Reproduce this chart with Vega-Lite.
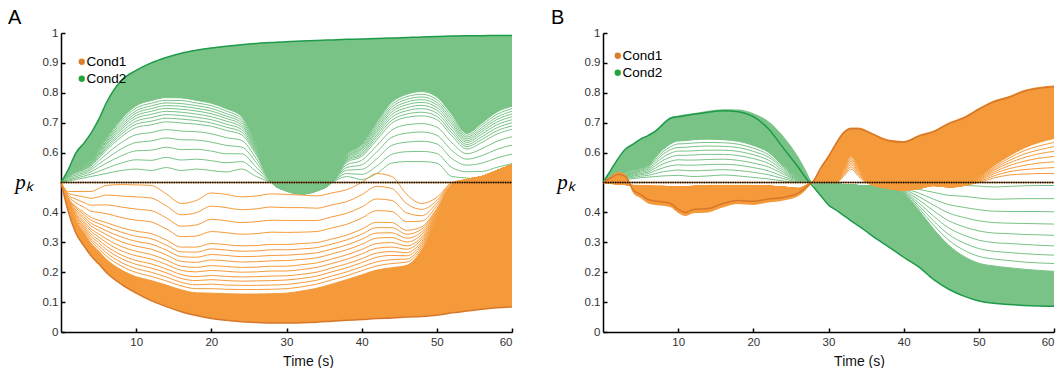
{
"$schema": "https://vega.github.io/schema/vega-lite/v6.json",
"padding": {"left": 8, "top": 8, "right": 0, "bottom": 0},
"spacing": 35,
"config": {
  "view": {"stroke": null},
  "font": "Liberation Sans",
  "axis": {"grid": false, "domainColor": "#000", "domainWidth": 1.5, "tickColor": "#000", "tickWidth": 1.5, "tickSize": -4, "labelFont": "Liberation Sans", "labelFontSize": 11.5, "labelColor": "#333", "labelOverlap": false, "titleFont": "Liberation Sans", "titleFontSize": 14, "titleFontWeight": "normal", "titleColor": "#111"},
  "legend": {"orient": "none", "title": null, "symbolType": "circle", "symbolSize": 40, "symbolOpacity": 1, "symbolStrokeWidth": 0, "labelFont": "Liberation Sans", "labelFontSize": 13.5, "labelColor": "#000", "rowPadding": 2, "labelOffset": -2, "padding": 0},
  "title": {"anchor": "start", "frame": "group", "fontSize": 20, "fontWeight": "normal", "font": "Liberation Sans", "color": "#000", "baseline": "alphabetic", "offset": 2, "dy": 3}
},
"resolve": {"scale": {"color": "independent", "x": "independent", "y": "independent"}, "legend": {"color": "independent"}},
"datasets": {
"A": [
{"t":0,"gE":0.5,"gD":0.5,"g0":0.5,"g1":0.5,"g2":0.5,"g3":0.5,"g4":0.5,"g5":0.5,"g6":0.5,"g7":0.5,"g8":0.5,"g9":0.5,"q1":0.5,"q2":0.5,"q3":0.5,"q4":0.5,"oE":0.5,"oD":0.5,"o0":0.5,"o1":0.5,"o2":0.5,"o3":0.5,"o4":0.5,"o5":0.5,"o6":0.5,"o7":0.5,"o8":0.5,"o9":0.5,"p1":0.5,"p2":0.5,"p3":0.5,"p4":0.5,"p5":0.5},
{"t":1,"gE":0.545,"gD":0.528,"g0":0.505,"g1":0.508,"g2":0.511,"g3":0.515,"g4":0.517,"g5":0.52,"g6":0.522,"g7":0.524,"g8":0.526,"g9":0.528,"q1":0.521,"q2":0.523,"q3":0.525,"q4":0.527,"oE":0.4,"oD":0.425,"o0":0.47,"o1":0.464,"o2":0.458,"o3":0.453,"o4":0.447,"o5":0.442,"o6":0.437,"o7":0.433,"o8":0.429,"o9":0.425,"p1":0.445,"p2":0.44,"p3":0.435,"p4":0.431,"p5":0.427},
{"t":2,"gE":0.6,"gD":0.546,"g0":0.51,"g1":0.515,"g2":0.52,"g3":0.525,"g4":0.53,"g5":0.534,"g6":0.537,"g7":0.54,"g8":0.543,"g9":0.546,"q1":0.536,"q2":0.539,"q3":0.542,"q4":0.545,"oE":0.33,"oD":0.37,"o0":0.47,"o1":0.457,"o2":0.444,"o3":0.432,"o4":0.419,"o5":0.408,"o6":0.397,"o7":0.388,"o8":0.379,"o9":0.37,"p1":0.414,"p2":0.403,"p3":0.393,"p4":0.384,"p5":0.375},
{"t":3,"gE":0.63,"gD":0.556,"g0":0.515,"g1":0.521,"g2":0.527,"g3":0.532,"g4":0.537,"g5":0.542,"g6":0.546,"g7":0.549,"g8":0.552,"g9":0.556,"q1":0.544,"q2":0.548,"q3":0.551,"q4":0.554,"oE":0.29,"oD":0.334,"o0":0.47,"o1":0.452,"o2":0.434,"o3":0.418,"o4":0.401,"o5":0.386,"o6":0.371,"o7":0.358,"o8":0.346,"o9":0.334,"p1":0.394,"p2":0.379,"p3":0.365,"p4":0.352,"p5":0.34},
{"t":4,"gE":0.665,"gD":0.574,"g0":0.52,"g1":0.528,"g2":0.536,"g3":0.543,"g4":0.549,"g5":0.555,"g6":0.561,"g7":0.566,"g8":0.57,"g9":0.574,"q1":0.558,"q2":0.564,"q3":0.568,"q4":0.572,"oE":0.255,"oD":0.297,"o0":0.47,"o1":0.447,"o2":0.424,"o3":0.404,"o4":0.383,"o5":0.364,"o6":0.345,"o7":0.328,"o8":0.312,"o9":0.297,"p1":0.374,"p2":0.355,"p3":0.337,"p4":0.32,"p5":0.305},
{"t":5,"gE":0.71,"gD":0.611,"g0":0.525,"g1":0.537,"g2":0.55,"g3":0.561,"g4":0.572,"g5":0.581,"g6":0.59,"g7":0.597,"g8":0.604,"g9":0.611,"q1":0.586,"q2":0.594,"q3":0.601,"q4":0.608,"oE":0.228,"oD":0.271,"o0":0.48,"o1":0.452,"o2":0.425,"o3":0.4,"o4":0.374,"o5":0.351,"o6":0.328,"o7":0.308,"o8":0.289,"o9":0.271,"p1":0.363,"p2":0.34,"p3":0.318,"p4":0.299,"p5":0.28},
{"t":6,"gE":0.765,"gD":0.647,"g0":0.53,"g1":0.547,"g2":0.564,"g3":0.579,"g4":0.594,"g5":0.607,"g6":0.618,"g7":0.629,"g8":0.638,"g9":0.647,"q1":0.613,"q2":0.624,"q3":0.634,"q4":0.643,"oE":0.2,"oD":0.244,"o0":0.49,"o1":0.458,"o2":0.425,"o3":0.396,"o4":0.366,"o5":0.339,"o6":0.312,"o7":0.288,"o8":0.266,"o9":0.244,"p1":0.353,"p2":0.326,"p3":0.3,"p4":0.277,"p5":0.255},
{"t":8,"gE":0.84,"gD":0.711,"g0":0.54,"g1":0.565,"g2":0.589,"g3":0.612,"g4":0.633,"g5":0.652,"g6":0.669,"g7":0.684,"g8":0.698,"g9":0.711,"q1":0.661,"q2":0.677,"q3":0.691,"q4":0.705,"oE":0.16,"oD":0.208,"o0":0.493,"o1":0.455,"o2":0.418,"o3":0.383,"o4":0.349,"o5":0.318,"o6":0.286,"o7":0.258,"o8":0.233,"o9":0.208,"p1":0.334,"p2":0.302,"p3":0.272,"p4":0.246,"p5":0.221},
{"t":10,"gE":0.875,"gD":0.757,"g0":0.545,"g1":0.576,"g2":0.606,"g3":0.634,"g4":0.66,"g5":0.684,"g6":0.705,"g7":0.724,"g8":0.74,"g9":0.757,"q1":0.695,"q2":0.715,"q3":0.732,"q4":0.749,"oE":0.13,"oD":0.185,"o0":0.492,"o1":0.452,"o2":0.411,"o3":0.374,"o4":0.337,"o5":0.303,"o6":0.27,"o7":0.239,"o8":0.212,"o9":0.185,"p1":0.32,"p2":0.287,"p3":0.255,"p4":0.226,"p5":0.199},
{"t":12,"gE":0.9,"gD":0.774,"g0":0.54,"g1":0.574,"g2":0.608,"g3":0.639,"g4":0.667,"g5":0.693,"g6":0.717,"g7":0.738,"g8":0.756,"g9":0.774,"q1":0.705,"q2":0.728,"q3":0.747,"q4":0.765,"oE":0.105,"oD":0.172,"o0":0.49,"o1":0.448,"o2":0.406,"o3":0.368,"o4":0.329,"o5":0.294,"o6":0.259,"o7":0.228,"o8":0.2,"o9":0.172,"p1":0.312,"p2":0.277,"p3":0.244,"p4":0.214,"p5":0.186},
{"t":14,"gE":0.918,"gD":0.784,"g0":0.55,"g1":0.584,"g2":0.618,"g3":0.649,"g4":0.677,"g5":0.703,"g6":0.727,"g7":0.748,"g8":0.766,"g9":0.784,"q1":0.715,"q2":0.738,"q3":0.757,"q4":0.775,"oE":0.085,"oD":0.157,"o0":0.462,"o1":0.422,"o2":0.382,"o3":0.345,"o4":0.308,"o5":0.274,"o6":0.241,"o7":0.211,"o8":0.184,"o9":0.157,"p1":0.291,"p2":0.258,"p3":0.226,"p4":0.198,"p5":0.171},
{"t":16,"gE":0.932,"gD":0.783,"g0":0.54,"g1":0.575,"g2":0.61,"g3":0.643,"g4":0.672,"g5":0.699,"g6":0.724,"g7":0.745,"g8":0.764,"g9":0.783,"q1":0.712,"q2":0.735,"q3":0.755,"q4":0.774,"oE":0.068,"oD":0.141,"o0":0.43,"o1":0.392,"o2":0.354,"o3":0.319,"o4":0.284,"o5":0.252,"o6":0.22,"o7":0.192,"o8":0.166,"o9":0.141,"p1":0.268,"p2":0.236,"p3":0.206,"p4":0.179,"p5":0.154},
{"t":18,"gE":0.942,"gD":0.775,"g0":0.545,"g1":0.578,"g2":0.611,"g3":0.642,"g4":0.67,"g5":0.695,"g6":0.718,"g7":0.739,"g8":0.757,"g9":0.775,"q1":0.707,"q2":0.729,"q3":0.748,"q4":0.766,"oE":0.055,"oD":0.131,"o0":0.44,"o1":0.399,"o2":0.358,"o3":0.321,"o4":0.284,"o5":0.25,"o6":0.216,"o7":0.185,"o8":0.158,"o9":0.131,"p1":0.267,"p2":0.233,"p3":0.201,"p4":0.172,"p5":0.145},
{"t":20,"gE":0.95,"gD":0.765,"g0":0.54,"g1":0.573,"g2":0.605,"g3":0.635,"g4":0.663,"g5":0.688,"g6":0.71,"g7":0.73,"g8":0.748,"g9":0.765,"q1":0.699,"q2":0.72,"q3":0.739,"q4":0.757,"oE":0.045,"oD":0.13,"o0":0.465,"o1":0.421,"o2":0.377,"o3":0.336,"o4":0.296,"o5":0.259,"o6":0.222,"o7":0.189,"o8":0.16,"o9":0.13,"p1":0.278,"p2":0.241,"p3":0.206,"p4":0.175,"p5":0.145},
{"t":22,"gE":0.956,"gD":0.747,"g0":0.535,"g1":0.566,"g2":0.596,"g3":0.624,"g4":0.65,"g5":0.674,"g6":0.695,"g7":0.714,"g8":0.73,"g9":0.747,"q1":0.685,"q2":0.705,"q3":0.722,"q4":0.739,"oE":0.039,"oD":0.128,"o0":0.46,"o1":0.416,"o2":0.372,"o3":0.332,"o4":0.292,"o5":0.256,"o6":0.219,"o7":0.186,"o8":0.157,"o9":0.128,"p1":0.274,"p2":0.238,"p3":0.203,"p4":0.172,"p5":0.143},
{"t":24,"gE":0.961,"gD":0.721,"g0":0.545,"g1":0.57,"g2":0.596,"g3":0.619,"g4":0.641,"g5":0.66,"g6":0.678,"g7":0.693,"g8":0.707,"g9":0.721,"q1":0.669,"q2":0.686,"q3":0.7,"q4":0.714,"oE":0.034,"oD":0.127,"o0":0.452,"o1":0.409,"o2":0.366,"o3":0.327,"o4":0.288,"o5":0.252,"o6":0.216,"o7":0.184,"o8":0.156,"o9":0.127,"p1":0.27,"p2":0.234,"p3":0.2,"p4":0.17,"p5":0.142},
{"t":26,"gE":0.965,"gD":0.628,"g0":0.52,"g1":0.536,"g2":0.551,"g3":0.566,"g4":0.579,"g5":0.591,"g6":0.602,"g7":0.611,"g8":0.62,"g9":0.628,"q1":0.597,"q2":0.607,"q3":0.616,"q4":0.624,"oE":0.032,"oD":0.127,"o0":0.455,"o1":0.412,"o2":0.369,"o3":0.329,"o4":0.289,"o5":0.253,"o6":0.217,"o7":0.185,"o8":0.156,"o9":0.127,"p1":0.271,"p2":0.235,"p3":0.201,"p4":0.171,"p5":0.142},
{"t":28,"gE":0.968,"gD":0.5,"g0":0.5,"g1":0.5,"g2":0.5,"g3":0.5,"g4":0.5,"g5":0.5,"g6":0.5,"g7":0.5,"g8":0.5,"g9":0.5,"q1":0.5,"q2":0.5,"q3":0.5,"q4":0.5,"oE":0.03,"oD":0.128,"o0":0.462,"o1":0.418,"o2":0.374,"o3":0.334,"o4":0.293,"o5":0.256,"o6":0.22,"o7":0.187,"o8":0.157,"o9":0.128,"p1":0.275,"p2":0.238,"p3":0.204,"p4":0.172,"p5":0.143},
{"t":30,"gE":0.971,"gD":0.47,"g0":0.48,"g1":0.479,"g2":0.477,"g3":0.476,"g4":0.475,"g5":0.474,"g6":0.473,"g7":0.472,"g8":0.472,"g9":0.471,"q1":0.474,"q2":0.473,"q3":0.472,"q4":0.472,"oE":0.03,"oD":0.13,"o0":0.46,"o1":0.416,"o2":0.373,"o3":0.333,"o4":0.293,"o5":0.257,"o6":0.22,"o7":0.188,"o8":0.159,"o9":0.13,"p1":0.275,"p2":0.239,"p3":0.204,"p4":0.174,"p5":0.145},
{"t":32,"gE":0.973,"gD":0.46,"g0":0.47,"g1":0.469,"g2":0.467,"g3":0.466,"g4":0.465,"g5":0.464,"g6":0.463,"g7":0.462,"g8":0.462,"g9":0.461,"q1":0.464,"q2":0.463,"q3":0.462,"q4":0.462,"oE":0.031,"oD":0.137,"o0":0.458,"o1":0.416,"o2":0.373,"o3":0.334,"o4":0.296,"o5":0.26,"o6":0.225,"o7":0.193,"o8":0.165,"o9":0.137,"p1":0.278,"p2":0.243,"p3":0.209,"p4":0.179,"p5":0.151},
{"t":34,"gE":0.975,"gD":0.47,"g0":0.48,"g1":0.479,"g2":0.477,"g3":0.476,"g4":0.475,"g5":0.474,"g6":0.473,"g7":0.472,"g8":0.472,"g9":0.471,"q1":0.474,"q2":0.473,"q3":0.472,"q4":0.472,"oE":0.033,"oD":0.146,"o0":0.455,"o1":0.414,"o2":0.373,"o3":0.336,"o4":0.299,"o5":0.265,"o6":0.231,"o7":0.2,"o8":0.173,"o9":0.146,"p1":0.282,"p2":0.248,"p3":0.216,"p4":0.187,"p5":0.16},
{"t":36,"gE":0.977,"gD":0.5,"g0":0.5,"g1":0.5,"g2":0.5,"g3":0.5,"g4":0.5,"g5":0.5,"g6":0.5,"g7":0.5,"g8":0.5,"g9":0.5,"q1":0.5,"q2":0.5,"q3":0.5,"q4":0.5,"oE":0.036,"oD":0.16,"o0":0.465,"o1":0.425,"o2":0.385,"o3":0.348,"o4":0.311,"o5":0.277,"o6":0.244,"o7":0.214,"o8":0.187,"o9":0.16,"p1":0.294,"p2":0.261,"p3":0.229,"p4":0.201,"p5":0.174},
{"t":38,"gE":0.979,"gD":0.592,"g0":0.52,"g1":0.53,"g2":0.541,"g3":0.55,"g4":0.559,"g5":0.567,"g6":0.574,"g7":0.581,"g8":0.586,"g9":0.592,"q1":0.571,"q2":0.578,"q3":0.584,"q4":0.589,"oE":0.039,"oD":0.175,"o0":0.476,"o1":0.436,"o2":0.397,"o3":0.36,"o4":0.324,"o5":0.291,"o6":0.258,"o7":0.228,"o8":0.201,"o9":0.175,"p1":0.308,"p2":0.275,"p3":0.243,"p4":0.215,"p5":0.188},
{"t":40,"gE":0.98,"gD":0.627,"g0":0.51,"g1":0.527,"g2":0.544,"g3":0.559,"g4":0.574,"g5":0.587,"g6":0.598,"g7":0.609,"g8":0.618,"g9":0.627,"q1":0.593,"q2":0.604,"q3":0.614,"q4":0.623,"oE":0.042,"oD":0.191,"o0":0.5,"o1":0.459,"o2":0.418,"o3":0.381,"o4":0.344,"o5":0.31,"o6":0.276,"o7":0.245,"o8":0.218,"o9":0.191,"p1":0.327,"p2":0.293,"p3":0.261,"p4":0.232,"p5":0.205},
{"t":42,"gE":0.982,"gD":0.701,"g0":0.53,"g1":0.555,"g2":0.579,"g3":0.602,"g4":0.623,"g5":0.642,"g6":0.659,"g7":0.674,"g8":0.688,"g9":0.701,"q1":0.651,"q2":0.667,"q3":0.681,"q4":0.695,"oE":0.045,"oD":0.207,"o0":0.53,"o1":0.487,"o2":0.445,"o3":0.406,"o4":0.367,"o5":0.331,"o6":0.296,"o7":0.264,"o8":0.235,"o9":0.207,"p1":0.349,"p2":0.314,"p3":0.28,"p4":0.25,"p5":0.221},
{"t":44,"gE":0.983,"gD":0.768,"g0":0.565,"g1":0.594,"g2":0.624,"g3":0.651,"g4":0.675,"g5":0.698,"g6":0.718,"g7":0.736,"g8":0.752,"g9":0.768,"q1":0.708,"q2":0.727,"q3":0.744,"q4":0.76,"oE":0.047,"oD":0.215,"o0":0.52,"o1":0.48,"o2":0.44,"o3":0.403,"o4":0.366,"o5":0.332,"o6":0.299,"o7":0.269,"o8":0.242,"o9":0.215,"p1":0.349,"p2":0.316,"p3":0.284,"p4":0.256,"p5":0.229},
{"t":46,"gE":0.985,"gD":0.795,"g0":0.57,"g1":0.603,"g2":0.635,"g3":0.665,"g4":0.693,"g5":0.718,"g6":0.74,"g7":0.76,"g8":0.778,"g9":0.795,"q1":0.729,"q2":0.75,"q3":0.769,"q4":0.787,"oE":0.05,"oD":0.223,"o0":0.46,"o1":0.429,"o2":0.398,"o3":0.369,"o4":0.34,"o5":0.314,"o6":0.288,"o7":0.265,"o8":0.244,"o9":0.223,"p1":0.327,"p2":0.301,"p3":0.277,"p4":0.255,"p5":0.234},
{"t":48,"gE":0.987,"gD":0.804,"g0":0.57,"g1":0.604,"g2":0.638,"g3":0.669,"g4":0.697,"g5":0.723,"g6":0.747,"g7":0.768,"g8":0.786,"g9":0.804,"q1":0.735,"q2":0.758,"q3":0.777,"q4":0.795,"oE":0.052,"oD":0.275,"o0":0.43,"o1":0.41,"o2":0.389,"o3":0.371,"o4":0.352,"o5":0.335,"o6":0.318,"o7":0.303,"o8":0.289,"o9":0.275,"p1":0.344,"p2":0.327,"p3":0.311,"p4":0.296,"p5":0.282},
{"t":50,"gE":0.988,"gD":0.786,"g0":0.565,"g1":0.597,"g2":0.629,"g3":0.658,"g4":0.685,"g5":0.71,"g6":0.732,"g7":0.751,"g8":0.768,"g9":0.786,"q1":0.721,"q2":0.742,"q3":0.76,"q4":0.777,"oE":0.056,"oD":0.377,"o0":0.45,"o1":0.44,"o2":0.431,"o3":0.422,"o4":0.413,"o5":0.405,"o6":0.397,"o7":0.39,"o8":0.384,"o9":0.377,"p1":0.409,"p2":0.401,"p3":0.394,"p4":0.387,"p5":0.381},
{"t":52,"gE":0.99,"gD":0.727,"g0":0.52,"g1":0.55,"g2":0.58,"g3":0.607,"g4":0.633,"g5":0.656,"g6":0.676,"g7":0.695,"g8":0.711,"g9":0.727,"q1":0.666,"q2":0.686,"q3":0.703,"q4":0.719,"oE":0.064,"oD":0.48,"o0":0.5,"o1":0.498,"o2":0.495,"o3":0.493,"o4":0.491,"o5":0.489,"o6":0.487,"o7":0.485,"o8":0.483,"o9":0.482,"p1":0.49,"p2":0.488,"p3":0.486,"p4":0.484,"p5":0.483},
{"t":54,"gE":0.991,"gD":0.664,"g0":0.515,"g1":0.536,"g2":0.558,"g3":0.578,"g4":0.596,"g5":0.612,"g6":0.627,"g7":0.64,"g8":0.652,"g9":0.664,"q1":0.62,"q2":0.634,"q3":0.646,"q4":0.658,"oE":0.07,"oD":0.51,"o0":0.51,"o1":0.51,"o2":0.51,"o3":0.51,"o4":0.51,"o5":0.51,"o6":0.51,"o7":0.51,"o8":0.51,"o9":0.51,"p1":0.51,"p2":0.51,"p3":0.51,"p4":0.51,"p5":0.51},
{"t":56,"gE":0.991,"gD":0.699,"g0":0.51,"g1":0.537,"g2":0.565,"g3":0.59,"g4":0.613,"g5":0.634,"g6":0.653,"g7":0.67,"g8":0.684,"g9":0.699,"q1":0.644,"q2":0.662,"q3":0.677,"q4":0.692,"oE":0.076,"oD":0.52,"o0":0.52,"o1":0.52,"o2":0.52,"o3":0.52,"o4":0.52,"o5":0.52,"o6":0.52,"o7":0.52,"o8":0.52,"o9":0.52,"p1":0.52,"p2":0.52,"p3":0.52,"p4":0.52,"p5":0.52},
{"t":58,"gE":0.992,"gD":0.736,"g0":0.52,"g1":0.551,"g2":0.582,"g3":0.611,"g4":0.638,"g5":0.662,"g6":0.683,"g7":0.702,"g8":0.719,"g9":0.736,"q1":0.673,"q2":0.693,"q3":0.711,"q4":0.728,"oE":0.081,"oD":0.54,"o0":0.54,"o1":0.54,"o2":0.54,"o3":0.54,"o4":0.54,"o5":0.54,"o6":0.54,"o7":0.54,"o8":0.54,"o9":0.54,"p1":0.54,"p2":0.54,"p3":0.54,"p4":0.54,"p5":0.54},
{"t":60,"gE":0.992,"gD":0.755,"g0":0.53,"g1":0.563,"g2":0.595,"g3":0.625,"g4":0.653,"g5":0.678,"g6":0.7,"g7":0.72,"g8":0.738,"g9":0.755,"q1":0.689,"q2":0.71,"q3":0.729,"q4":0.747,"oE":0.084,"oD":0.56,"o0":0.56,"o1":0.56,"o2":0.56,"o3":0.56,"o4":0.56,"o5":0.56,"o6":0.56,"o7":0.56,"o8":0.56,"o9":0.56,"p1":0.56,"p2":0.56,"p3":0.56,"p4":0.56,"p5":0.56}
],
"B": [
{"t":0,"gE":0.5,"gF":0.5,"gD":0.5,"g0":0.5,"g1":0.5,"g2":0.5,"g3":0.5,"g4":0.5,"g5":0.5,"g6":0.5,"g7":0.5,"g8":0.5,"oE":0.5,"oF":0.5,"oD":0.5,"o0":0.5,"o1":0.5,"o2":0.5,"o3":0.5,"o4":0.5,"o5":0.5,"o6":0.5,"o7":0.5},
{"t":1,"gE":0.54,"gF":0.54,"gD":0.51,"g0":0.503,"g1":0.504,"g2":0.505,"g3":0.506,"g4":0.507,"g5":0.507,"g6":0.508,"g7":0.509,"g8":0.509,"oE":0.515,"oF":0.52,"oD":0.497,"o0":0.497,"o1":0.497,"o2":0.497,"o3":0.497,"o4":0.497,"o5":0.497,"o6":0.497,"o7":0.497},
{"t":2,"gE":0.58,"gF":0.58,"gD":0.52,"g0":0.507,"g1":0.509,"g2":0.511,"g3":0.512,"g4":0.514,"g5":0.515,"g6":0.517,"g7":0.518,"g8":0.519,"oE":0.528,"oF":0.535,"oD":0.495,"o0":0.495,"o1":0.495,"o2":0.495,"o3":0.495,"o4":0.495,"o5":0.495,"o6":0.495,"o7":0.495},
{"t":3,"gE":0.612,"gF":0.612,"gD":0.53,"g0":0.51,"g1":0.513,"g2":0.516,"g3":0.518,"g4":0.521,"g5":0.523,"g6":0.525,"g7":0.527,"g8":0.528,"oE":0.52,"oF":0.527,"oD":0.493,"o0":0.493,"o1":0.493,"o2":0.493,"o3":0.493,"o4":0.493,"o5":0.493,"o6":0.493,"o7":0.493},
{"t":4,"gE":0.628,"gF":0.63,"gD":0.54,"g0":0.513,"g1":0.517,"g2":0.521,"g3":0.524,"g4":0.527,"g5":0.53,"g6":0.533,"g7":0.535,"g8":0.538,"oE":0.476,"oF":0.465,"oD":0.49,"o0":0.49,"o1":0.49,"o2":0.49,"o3":0.49,"o4":0.49,"o5":0.49,"o6":0.49,"o7":0.49},
{"t":5,"gE":0.645,"gF":0.647,"gD":0.547,"g0":0.516,"g1":0.521,"g2":0.526,"g3":0.53,"g4":0.534,"g5":0.538,"g6":0.541,"g7":0.544,"g8":0.547,"oE":0.46,"oF":0.448,"oD":0.49,"o0":0.49,"o1":0.49,"o2":0.49,"o3":0.49,"o4":0.49,"o5":0.49,"o6":0.49,"o7":0.49},
{"t":6,"gE":0.657,"gF":0.66,"gD":0.556,"g0":0.518,"g1":0.524,"g2":0.53,"g3":0.535,"g4":0.54,"g5":0.545,"g6":0.549,"g7":0.553,"g8":0.556,"oE":0.443,"oF":0.43,"oD":0.488,"o0":0.488,"o1":0.488,"o2":0.488,"o3":0.488,"o4":0.488,"o5":0.488,"o6":0.488,"o7":0.488},
{"t":7,"gE":0.672,"gF":0.676,"gD":0.584,"g0":0.52,"g1":0.53,"g2":0.54,"g3":0.549,"g4":0.557,"g5":0.565,"g6":0.572,"g7":0.578,"g8":0.584,"oE":0.438,"oF":0.425,"oD":0.487,"o0":0.487,"o1":0.487,"o2":0.487,"o3":0.487,"o4":0.487,"o5":0.487,"o6":0.487,"o7":0.487},
{"t":8,"gE":0.695,"gF":0.7,"gD":0.611,"g0":0.522,"g1":0.536,"g2":0.549,"g3":0.562,"g4":0.574,"g5":0.585,"g6":0.595,"g7":0.603,"g8":0.611,"oE":0.435,"oF":0.422,"oD":0.487,"o0":0.487,"o1":0.487,"o2":0.487,"o3":0.487,"o4":0.487,"o5":0.487,"o6":0.487,"o7":0.487},
{"t":9,"gE":0.715,"gF":0.719,"gD":0.629,"g0":0.523,"g1":0.539,"g2":0.556,"g3":0.571,"g4":0.585,"g5":0.598,"g6":0.61,"g7":0.62,"g8":0.629,"oE":0.43,"oF":0.417,"oD":0.486,"o0":0.486,"o1":0.486,"o2":0.486,"o3":0.486,"o4":0.486,"o5":0.486,"o6":0.486,"o7":0.486},
{"t":10,"gE":0.72,"gF":0.724,"gD":0.639,"g0":0.524,"g1":0.542,"g2":0.559,"g3":0.576,"g4":0.591,"g5":0.605,"g6":0.617,"g7":0.629,"g8":0.639,"oE":0.41,"oF":0.398,"oD":0.485,"o0":0.485,"o1":0.485,"o2":0.485,"o3":0.485,"o4":0.485,"o5":0.485,"o6":0.485,"o7":0.485},
{"t":11,"gE":0.724,"gF":0.728,"gD":0.64,"g0":0.522,"g1":0.54,"g2":0.558,"g3":0.575,"g4":0.591,"g5":0.605,"g6":0.618,"g7":0.63,"g8":0.64,"oE":0.4,"oF":0.388,"oD":0.486,"o0":0.486,"o1":0.486,"o2":0.486,"o3":0.486,"o4":0.486,"o5":0.486,"o6":0.486,"o7":0.486},
{"t":12,"gE":0.728,"gF":0.732,"gD":0.643,"g0":0.52,"g1":0.539,"g2":0.558,"g3":0.575,"g4":0.592,"g5":0.606,"g6":0.62,"g7":0.632,"g8":0.643,"oE":0.41,"oF":0.397,"oD":0.487,"o0":0.487,"o1":0.487,"o2":0.487,"o3":0.487,"o4":0.487,"o5":0.487,"o6":0.487,"o7":0.487},
{"t":14,"gE":0.735,"gF":0.74,"gD":0.645,"g0":0.522,"g1":0.541,"g2":0.56,"g3":0.577,"g4":0.594,"g5":0.608,"g6":0.622,"g7":0.634,"g8":0.645,"oE":0.413,"oF":0.4,"oD":0.49,"o0":0.49,"o1":0.49,"o2":0.49,"o3":0.49,"o4":0.49,"o5":0.49,"o6":0.49,"o7":0.49},
{"t":16,"gE":0.74,"gF":0.745,"gD":0.643,"g0":0.525,"g1":0.543,"g2":0.561,"g3":0.578,"g4":0.594,"g5":0.608,"g6":0.621,"g7":0.633,"g8":0.643,"oE":0.43,"oF":0.417,"oD":0.49,"o0":0.49,"o1":0.49,"o2":0.49,"o3":0.49,"o4":0.49,"o5":0.49,"o6":0.49,"o7":0.49},
{"t":18,"gE":0.737,"gF":0.744,"gD":0.638,"g0":0.522,"g1":0.54,"g2":0.558,"g3":0.574,"g4":0.59,"g5":0.604,"g6":0.617,"g7":0.628,"g8":0.638,"oE":0.44,"oF":0.428,"oD":0.49,"o0":0.49,"o1":0.49,"o2":0.49,"o3":0.49,"o4":0.49,"o5":0.49,"o6":0.49,"o7":0.49},
{"t":20,"gE":0.72,"gF":0.732,"gD":0.624,"g0":0.517,"g1":0.534,"g2":0.55,"g3":0.565,"g4":0.58,"g5":0.593,"g6":0.604,"g7":0.615,"g8":0.624,"oE":0.437,"oF":0.425,"oD":0.49,"o0":0.49,"o1":0.49,"o2":0.49,"o3":0.49,"o4":0.49,"o5":0.49,"o6":0.49,"o7":0.49},
{"t":22,"gE":0.68,"gF":0.705,"gD":0.601,"g0":0.512,"g1":0.526,"g2":0.539,"g3":0.552,"g4":0.564,"g5":0.575,"g6":0.585,"g7":0.593,"g8":0.601,"oE":0.445,"oF":0.433,"oD":0.488,"o0":0.488,"o1":0.488,"o2":0.488,"o3":0.488,"o4":0.488,"o5":0.488,"o6":0.488,"o7":0.488},
{"t":24,"gE":0.615,"gF":0.655,"gD":0.555,"g0":0.505,"g1":0.513,"g2":0.52,"g3":0.528,"g4":0.534,"g5":0.54,"g6":0.546,"g7":0.551,"g8":0.555,"oE":0.45,"oF":0.44,"oD":0.485,"o0":0.485,"o1":0.485,"o2":0.485,"o3":0.485,"o4":0.485,"o5":0.485,"o6":0.485,"o7":0.485},
{"t":26,"gE":0.55,"gF":0.585,"gD":0.514,"g0":0.5,"g1":0.502,"g2":0.504,"g3":0.506,"g4":0.508,"g5":0.51,"g6":0.511,"g7":0.512,"g8":0.514,"oE":0.465,"oF":0.455,"oD":0.48,"o0":0.48,"o1":0.48,"o2":0.48,"o3":0.48,"o4":0.48,"o5":0.48,"o6":0.48,"o7":0.48},
{"t":27,"gE":0.515,"gF":0.54,"gD":0.505,"g0":0.5,"g1":0.501,"g2":0.501,"g3":0.502,"g4":0.503,"g5":0.503,"g6":0.504,"g7":0.504,"g8":0.505,"oE":0.485,"oF":0.475,"oD":0.49,"o0":0.49,"o1":0.49,"o2":0.49,"o3":0.49,"o4":0.49,"o5":0.49,"o6":0.49,"o7":0.49},
{"t":28,"gE":0.485,"gF":0.49,"gD":0.5,"g0":0.5,"g1":0.5,"g2":0.5,"g3":0.5,"g4":0.5,"g5":0.5,"g6":0.5,"g7":0.5,"g8":0.5,"oE":0.505,"oF":0.508,"oD":0.5,"o0":0.5,"o1":0.5,"o2":0.5,"o3":0.5,"o4":0.5,"o5":0.5,"o6":0.5,"o7":0.5},
{"t":29,"gE":0.455,"gF":0.455,"gD":0.497,"g0":0.497,"g1":0.497,"g2":0.497,"g3":0.497,"g4":0.497,"g5":0.497,"g6":0.497,"g7":0.497,"g8":0.497,"oE":0.55,"oF":0.553,"oD":0.5,"o0":0.5,"o1":0.5,"o2":0.5,"o3":0.5,"o4":0.5,"o5":0.5,"o6":0.5,"o7":0.5},
{"t":30,"gE":0.425,"gF":0.425,"gD":0.495,"g0":0.495,"g1":0.495,"g2":0.495,"g3":0.495,"g4":0.495,"g5":0.495,"g6":0.495,"g7":0.495,"g8":0.495,"oE":0.587,"oF":0.59,"oD":0.5,"o0":0.5,"o1":0.5,"o2":0.5,"o3":0.5,"o4":0.5,"o5":0.5,"o6":0.5,"o7":0.5},
{"t":31,"gE":0.408,"gF":0.408,"gD":0.495,"g0":0.495,"g1":0.495,"g2":0.495,"g3":0.495,"g4":0.495,"g5":0.495,"g6":0.495,"g7":0.495,"g8":0.495,"oE":0.63,"oF":0.633,"oD":0.505,"o0":0.5,"o1":0.501,"o2":0.502,"o3":0.502,"o4":0.503,"o5":0.503,"o6":0.504,"o7":0.505},
{"t":32,"gE":0.39,"gF":0.39,"gD":0.493,"g0":0.493,"g1":0.493,"g2":0.493,"g3":0.493,"g4":0.493,"g5":0.493,"g6":0.493,"g7":0.493,"g8":0.493,"oE":0.666,"oF":0.67,"oD":0.547,"o0":0.52,"o1":0.525,"o2":0.529,"o3":0.533,"o4":0.537,"o5":0.541,"o6":0.544,"o7":0.547},
{"t":33,"gE":0.372,"gF":0.372,"gD":0.492,"g0":0.492,"g1":0.492,"g2":0.492,"g3":0.492,"g4":0.492,"g5":0.492,"g6":0.492,"g7":0.492,"g8":0.492,"oE":0.68,"oF":0.684,"oD":0.586,"o0":0.545,"o1":0.552,"o2":0.559,"o3":0.565,"o4":0.571,"o5":0.576,"o6":0.581,"o7":0.586},
{"t":34,"gE":0.355,"gF":0.355,"gD":0.49,"g0":0.49,"g1":0.49,"g2":0.49,"g3":0.49,"g4":0.49,"g5":0.49,"g6":0.49,"g7":0.49,"g8":0.49,"oE":0.68,"oF":0.684,"oD":0.552,"o0":0.52,"o1":0.525,"o2":0.531,"o3":0.535,"o4":0.54,"o5":0.544,"o6":0.548,"o7":0.552},
{"t":35,"gE":0.337,"gF":0.337,"gD":0.49,"g0":0.49,"g1":0.49,"g2":0.49,"g3":0.49,"g4":0.49,"g5":0.49,"g6":0.49,"g7":0.49,"g8":0.49,"oE":0.672,"oF":0.676,"oD":0.509,"o0":0.5,"o1":0.502,"o2":0.503,"o3":0.504,"o4":0.506,"o5":0.507,"o6":0.508,"o7":0.509},
{"t":36,"gE":0.318,"gF":0.318,"gD":0.488,"g0":0.488,"g1":0.488,"g2":0.488,"g3":0.488,"g4":0.488,"g5":0.488,"g6":0.488,"g7":0.488,"g8":0.488,"oE":0.66,"oF":0.664,"oD":0.495,"o0":0.49,"o1":0.491,"o2":0.492,"o3":0.492,"o4":0.493,"o5":0.493,"o6":0.494,"o7":0.495},
{"t":38,"gE":0.285,"gF":0.285,"gD":0.481,"g0":0.488,"g1":0.487,"g2":0.486,"g3":0.485,"g4":0.484,"g5":0.483,"g6":0.482,"g7":0.481,"g8":0.481,"oE":0.64,"oF":0.644,"oD":0.48,"o0":0.48,"o1":0.48,"o2":0.48,"o3":0.48,"o4":0.48,"o5":0.48,"o6":0.48,"o7":0.48},
{"t":40,"gE":0.25,"gF":0.25,"gD":0.463,"g0":0.488,"g1":0.484,"g2":0.48,"g3":0.477,"g4":0.473,"g5":0.47,"g6":0.467,"g7":0.465,"g8":0.463,"oE":0.635,"oF":0.639,"oD":0.475,"o0":0.475,"o1":0.475,"o2":0.475,"o3":0.475,"o4":0.475,"o5":0.475,"o6":0.475,"o7":0.475},
{"t":42,"gE":0.218,"gF":0.218,"gD":0.408,"g0":0.49,"g1":0.477,"g2":0.465,"g3":0.453,"g4":0.442,"g5":0.432,"g6":0.423,"g7":0.415,"g8":0.408,"oE":0.655,"oF":0.659,"oD":0.48,"o0":0.48,"o1":0.48,"o2":0.48,"o3":0.48,"o4":0.48,"o5":0.48,"o6":0.48,"o7":0.48},
{"t":44,"gE":0.175,"gF":0.175,"gD":0.344,"g0":0.489,"g1":0.467,"g2":0.444,"g3":0.424,"g4":0.405,"g5":0.387,"g6":0.371,"g7":0.357,"g8":0.344,"oE":0.67,"oF":0.674,"oD":0.49,"o0":0.49,"o1":0.49,"o2":0.49,"o3":0.49,"o4":0.49,"o5":0.49,"o6":0.49,"o7":0.49},
{"t":46,"gE":0.143,"gF":0.143,"gD":0.29,"g0":0.487,"g1":0.457,"g2":0.426,"g3":0.398,"g4":0.372,"g5":0.348,"g6":0.326,"g7":0.307,"g8":0.29,"oE":0.697,"oF":0.701,"oD":0.485,"o0":0.485,"o1":0.485,"o2":0.485,"o3":0.485,"o4":0.485,"o5":0.485,"o6":0.485,"o7":0.485},
{"t":48,"gE":0.12,"gF":0.12,"gD":0.253,"g0":0.49,"g1":0.454,"g2":0.417,"g3":0.383,"g4":0.352,"g5":0.324,"g6":0.298,"g7":0.274,"g8":0.253,"oE":0.716,"oF":0.72,"oD":0.49,"o0":0.49,"o1":0.49,"o2":0.49,"o3":0.49,"o4":0.49,"o5":0.49,"o6":0.49,"o7":0.49},
{"t":50,"gE":0.104,"gF":0.104,"gD":0.23,"g0":0.488,"g1":0.448,"g2":0.409,"g3":0.372,"g4":0.338,"g5":0.307,"g6":0.279,"g7":0.253,"g8":0.23,"oE":0.745,"oF":0.749,"oD":0.518,"o0":0.5,"o1":0.503,"o2":0.506,"o3":0.509,"o4":0.511,"o5":0.514,"o6":0.516,"o7":0.518},
{"t":52,"gE":0.096,"gF":0.096,"gD":0.221,"g0":0.485,"g1":0.444,"g2":0.404,"g3":0.366,"g4":0.331,"g5":0.299,"g6":0.27,"g7":0.244,"g8":0.221,"oE":0.77,"oF":0.774,"oD":0.556,"o0":0.515,"o1":0.522,"o2":0.529,"o3":0.535,"o4":0.541,"o5":0.546,"o6":0.551,"o7":0.556},
{"t":54,"gE":0.092,"gF":0.092,"gD":0.215,"g0":0.487,"g1":0.445,"g2":0.403,"g3":0.364,"g4":0.329,"g5":0.296,"g6":0.266,"g7":0.239,"g8":0.215,"oE":0.785,"oF":0.789,"oD":0.588,"o0":0.525,"o1":0.536,"o2":0.546,"o3":0.556,"o4":0.565,"o5":0.573,"o6":0.581,"o7":0.588},
{"t":56,"gE":0.089,"gF":0.089,"gD":0.21,"g0":0.489,"g1":0.446,"g2":0.403,"g3":0.363,"g4":0.326,"g5":0.293,"g6":0.262,"g7":0.234,"g8":0.21,"oE":0.805,"oF":0.809,"oD":0.615,"o0":0.528,"o1":0.543,"o2":0.557,"o3":0.571,"o4":0.583,"o5":0.595,"o6":0.606,"o7":0.615},
{"t":58,"gE":0.087,"gF":0.087,"gD":0.206,"g0":0.49,"g1":0.446,"g2":0.403,"g3":0.362,"g4":0.325,"g5":0.29,"g6":0.259,"g7":0.231,"g8":0.206,"oE":0.815,"oF":0.819,"oD":0.634,"o0":0.53,"o1":0.547,"o2":0.565,"o3":0.581,"o4":0.596,"o5":0.609,"o6":0.622,"o7":0.634},
{"t":60,"gE":0.086,"gF":0.086,"gD":0.203,"g0":0.49,"g1":0.446,"g2":0.402,"g3":0.361,"g4":0.323,"g5":0.288,"g6":0.257,"g7":0.229,"g8":0.203,"oE":0.82,"oF":0.824,"oD":0.647,"o0":0.53,"o1":0.55,"o2":0.569,"o3":0.587,"o4":0.604,"o5":0.62,"o6":0.634,"o7":0.647}
]
},
"hconcat": [
{
  "width": 451, "height": 299,
  "data": {"name": "A"},
  "title": {"text": "A", "dx": -53},
  "encoding": {"x": {"field": "t", "type": "quantitative", "title": "Time (s)", "scale": {"domain": [0, 60], "nice": false, "zero": false}, "axis": {"values": [10, 20, 30, 40, 50, 60], "labelPadding": 8, "labelOverlap": false, "titleX": 247, "titleY": 22, "titleBaseline": "top"}}},
  "layer": [
    {"mark": {"type": "area", "color": "#79C387", "interpolate": "monotone"}, "encoding": {"y": {"field": "gE", "type": "quantitative", "title": null, "scale": {"domain": [0, 1], "nice": false}, "axis": {"values": [0, 0.1, 0.2, 0.3, 0.4, 0.6, 0.7, 0.8, 0.9, 1], "tickCount": 11, "format": "~g", "labelOverlap": false, "labelPadding": 7}}, "y2": {"field": "gD"}}},
    {"transform": [{"fold": ["g0","g1","g2","g3","g4","g5","g6","g7","g8","g9","q1","q2","q3","q4"], "as": ["k", "v"]}], "mark": {"type": "line", "color": "#79C387", "strokeWidth": 1, "interpolate": "monotone"}, "encoding": {"y": {"field": "v", "type": "quantitative", "title": null}, "detail": {"field": "k"}}},
    {"mark": {"type": "area", "color": "#F59A3A", "interpolate": "monotone"}, "encoding": {"y": {"field": "oE", "type": "quantitative", "title": null}, "y2": {"field": "oD"}}},
    {"transform": [{"fold": ["o0","o1","o2","o3","o4","o5","o6","o7","o8","o9","p1","p2","p3","p4","p5"], "as": ["k", "v"]}], "mark": {"type": "line", "color": "#F59A3A", "strokeWidth": 1, "interpolate": "monotone"}, "encoding": {"y": {"field": "v", "type": "quantitative", "title": null}, "detail": {"field": "k"}}},
    {"mark": {"type": "line", "color": "#1E9A4A", "strokeWidth": 1.5, "interpolate": "monotone"}, "encoding": {"y": {"field": "gE", "type": "quantitative", "title": null}}},
    {"mark": {"type": "line", "color": "#D8772A", "strokeWidth": 1.5, "interpolate": "monotone"}, "encoding": {"y": {"field": "oE", "type": "quantitative", "title": null}}},
    {"mark": {"type": "line", "color": "#9E5F1C", "strokeWidth": 1.6}, "encoding": {"y": {"datum": 0.5}}},
    {"mark": {"type": "line", "color": "#000", "strokeWidth": 1.6, "strokeDash": [1.2, 1.2]}, "encoding": {"y": {"datum": 0.5}}},
    {"transform": [{"filter": "datum.t == 0"}], "mark": {"type": "text", "text": "pₖ", "font": "Liberation Serif", "fontStyle": "italic", "fontSize": 21, "dx": -37, "align": "center", "baseline": "middle", "color": "#000"}, "encoding": {"x": {"datum": 0}, "y": {"datum": 0.5}}},
    {"mark": {"type": "point", "filled": true, "opacity": 0, "size": 4}, "encoding": {"y": {"datum": 0.5}, "color": {"datum": "Cond1", "scale": {"domain": ["Cond1", "Cond2"], "range": ["#DB7F2E", "#23A43B"]}, "legend": {"legendX": 14, "legendY": 22}}}}
  ]
},
{
  "width": 451, "height": 299,
  "data": {"name": "B"},
  "title": {"text": "B", "dx": -52},
  "encoding": {"x": {"field": "t", "type": "quantitative", "title": "Time (s)", "scale": {"domain": [0, 60], "nice": false, "zero": false}, "axis": {"values": [10, 20, 30, 40, 50, 60], "labelPadding": 8, "labelOverlap": false, "titleX": 256, "titleY": 22, "titleBaseline": "top"}}},
  "layer": [
    {"mark": {"type": "area", "color": "#79C387", "interpolate": "monotone"}, "encoding": {"y": {"field": "gF", "type": "quantitative", "title": null, "scale": {"domain": [0, 1], "nice": false}, "axis": {"values": [0, 0.1, 0.2, 0.3, 0.4, 0.6, 0.7, 0.8, 0.9, 1], "tickCount": 11, "format": "~g", "labelOverlap": false, "labelPadding": 7}}, "y2": {"field": "gD"}}},
    {"transform": [{"fold": ["g0","g1","g2","g3","g4","g5","g6","g7","g8"], "as": ["k", "v"]}], "mark": {"type": "line", "color": "#79C387", "strokeWidth": 1, "interpolate": "monotone"}, "encoding": {"y": {"field": "v", "type": "quantitative", "title": null}, "detail": {"field": "k"}}},
    {"mark": {"type": "area", "color": "#F59A3A", "interpolate": "monotone"}, "encoding": {"y": {"field": "oF", "type": "quantitative", "title": null}, "y2": {"field": "oD"}}},
    {"transform": [{"fold": ["o0","o1","o2","o3","o4","o5","o6","o7"], "as": ["k", "v"]}], "mark": {"type": "line", "color": "#F59A3A", "strokeWidth": 1, "interpolate": "monotone"}, "encoding": {"y": {"field": "v", "type": "quantitative", "title": null}, "detail": {"field": "k"}}},
    {"mark": {"type": "line", "color": "#1E9A4A", "strokeWidth": 1.5, "interpolate": "monotone"}, "encoding": {"y": {"field": "gE", "type": "quantitative", "title": null}}},
    {"mark": {"type": "line", "color": "#D8772A", "strokeWidth": 1.5, "interpolate": "monotone"}, "encoding": {"y": {"field": "oE", "type": "quantitative", "title": null}}},
    {"mark": {"type": "line", "color": "#9E5F1C", "strokeWidth": 1.6}, "encoding": {"y": {"datum": 0.5}}},
    {"mark": {"type": "line", "color": "#000", "strokeWidth": 1.6, "strokeDash": [1.2, 1.2]}, "encoding": {"y": {"datum": 0.5}}},
    {"transform": [{"filter": "datum.t == 0"}], "mark": {"type": "text", "text": "pₖ", "font": "Liberation Serif", "fontStyle": "italic", "fontSize": 21, "dx": -37, "align": "center", "baseline": "middle", "color": "#000"}, "encoding": {"x": {"datum": 0}, "y": {"datum": 0.5}}},
    {"mark": {"type": "point", "filled": true, "opacity": 0, "size": 4}, "encoding": {"y": {"datum": 0.5}, "color": {"datum": "Cond1", "scale": {"domain": ["Cond1", "Cond2"], "range": ["#DB7F2E", "#23A43B"]}, "legend": {"legendX": 8, "legendY": 16}}}}
  ]
}
]
}
